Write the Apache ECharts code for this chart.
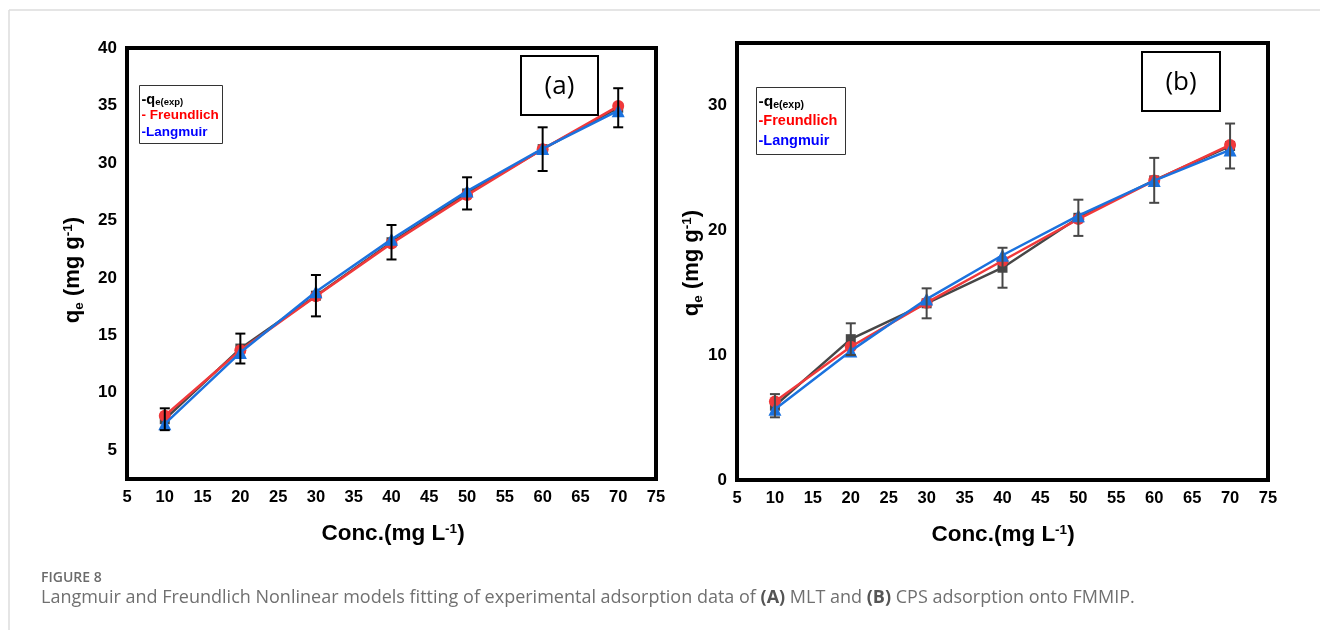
<!DOCTYPE html>
<html>
<head>
<meta charset="utf-8">
<script src="https://cdn.jsdelivr.net/npm/echarts@6/dist/echarts.min.js"></script>
<style>
  html, body { margin: 0; padding: 0; background: #fff; }
  #main { width: 1320px; height: 630px; }
</style>
</head>
<body>
<div id="main"></div>
<script>
// concentrations (mg/L)
var conc = [10, 20, 30, 40, 50, 60, 70];

// (a) MLT
var expA = [7.7, 13.85, 18.45, 23.1, 27.35, 31.2, 34.8];
var errA = [0.95, 1.3, 1.8, 1.5, 1.4, 1.9, 1.7];
var freundA = [8.0, 13.7, 18.4, 23.0, 27.2, 31.2, 34.95];
var langA = [7.3, 13.5, 18.8, 23.35, 27.55, 31.25, 34.55];

// (b) CPS
var expB = [5.95, 11.28, 14.15, 17.0, 21.0, 24.0, 26.75];
var errB = [0.93, 1.27, 1.2, 1.6, 1.45, 1.8, 1.8];
var freundB = [6.28, 10.67, 14.2, 17.56, 20.9, 23.98, 26.84];
var langB = [5.67, 10.34, 14.49, 18.0, 21.17, 23.98, 26.44];

var xTicks = [5, 75, 5];       // min, max, step
var yTicksA = [2.5, 40, 2.5];  // labels only every 5
var yTicksB = [0, 35, 10];

var RED = '#f0393b', BLUE = '#1b72de', GRAY = '#474747';
var FONT = '"Liberation Sans", Arial, sans-serif';

function pairs(xs, ys) {
    var out = [];
    for (var i = 0; i < xs.length; i++) out.push([xs[i], ys[i]]);
    return out;
}
function errData(xs, ys, es) {
    var out = [];
    for (var i = 0; i < xs.length; i++) out.push([xs[i], ys[i] - es[i], ys[i] + es[i]]);
    return out;
}
function errRender(color) {
    return function (params, api) {
        var x = api.value(0);
        var bot = api.coord([x, api.value(1)]);
        var top = api.coord([x, api.value(2)]);
        var hw = 5;
        var st = {stroke: color, lineWidth: 2};
        return {
            type: 'group',
            children: [
                {type: 'line', shape: {x1: top[0], y1: top[1], x2: bot[0], y2: bot[1]}, style: st},
                {type: 'line', shape: {x1: top[0] - hw, y1: top[1], x2: top[0] + hw, y2: top[1]}, style: st},
                {type: 'line', shape: {x1: bot[0] - hw, y1: bot[1], x2: bot[0] + hw, y2: bot[1]}, style: st}
            ]
        };
    };
}

function xAxisOf(gi) {
    return {
        gridIndex: gi, type: 'value', min: xTicks[0], max: xTicks[1], interval: xTicks[2],
        axisLine: {show: false}, axisTick: {show: false}, splitLine: {show: false},
        axisLabel: {color: '#000', fontFamily: FONT, fontWeight: 'bold', fontSize: 16.5, margin: 10}
    };
}

function lineSeries(gi, name, data, color, symbol, size, z) {
    return {
        name: name, type: 'line', xAxisIndex: gi, yAxisIndex: gi,
        data: data, symbol: symbol, symbolSize: size, z: z,
        lineStyle: {color: color, width: 2.5},
        itemStyle: {color: color},
        animation: false
    };
}

function legendBox(x, y, w, h, fs, lineGap, freundText) {
    return {
        type: 'group', left: x, top: y,
        children: [
            {type: 'rect', shape: {x: 0, y: 0, width: w, height: h}, style: {fill: '#fff', stroke: '#333', lineWidth: 1}},
            {type: 'text', x: 2, y: 6, style: {
                text: '{m|-q}{s|e(exp)}', fontFamily: FONT,
                rich: {m: {fontSize: fs + 1, fontWeight: 'bold', fill: '#000'},
                       s: {fontSize: fs - 4, fontWeight: 'bold', fill: '#000', padding: [6, 0, 0, 0]}}
            }},
            {type: 'text', x: 2, y: 6 + lineGap, style: {text: freundText, fill: '#ff0000', fontFamily: FONT, fontWeight: 'bold', fontSize: fs}},
            {type: 'text', x: 2, y: 6 + 2 * lineGap, style: {text: '-Langmuir', fill: '#0000ff', fontFamily: FONT, fontWeight: 'bold', fontSize: fs}}
        ]
    };
}

function yName(x, y) {
    return {
        type: 'text', x: x, y: y, rotation: Math.PI / 2,
        style: {
            text: '{m|q}{s|e}{m| (mg g}{p|-1}{m|)}', align: 'center', verticalAlign: 'middle',
            fontFamily: FONT,
            rich: {
                m: {fontSize: 22, fontWeight: 'bold', fill: '#000'},
                s: {fontSize: 13.5, fontWeight: 'bold', fill: '#000', padding: [12, 0, 0, 0]},
                p: {fontSize: 13.5, fontWeight: 'bold', fill: '#000', padding: [0, 0, 10, 0]}
            }
        }
    };
}

function xName(x, y) {
    return {
        type: 'text', x: x, y: y,
        style: {
            text: '{m|Conc.(mg L}{p|-1}{m|)}', align: 'center', verticalAlign: 'middle',
            fontFamily: FONT,
            rich: {
                m: {fontSize: 22.5, fontWeight: 'bold', fill: '#000'},
                p: {fontSize: 13.5, fontWeight: 'bold', fill: '#000', padding: [0, 0, 10, 0]}
            }
        }
    };
}

function tagBox(x, y, w, h, t) {
    return {
        type: 'group', left: x, top: y,
        children: [
            {type: 'rect', shape: {x: 0, y: 0, width: w, height: h}, style: {fill: '#fff', stroke: '#000', lineWidth: 2}},
            {type: 'text', x: w / 2, y: h / 2 + 1, style: {text: t, align: 'center', verticalAlign: 'middle',
                fontFamily: '"Open Sans", sans-serif', fontSize: 26, fill: '#000'}}
        ]
    };
}

var chart = echarts.init(document.getElementById('main'));

var option = {
    backgroundColor: '#fff',
    animation: false,
    grid: [
        {left: 127, top: 48, width: 529, height: 431, show: true, borderColor: '#000', borderWidth: 4, backgroundColor: 'transparent'},
        {left: 737, top: 43, width: 531, height: 437, show: true, borderColor: '#000', borderWidth: 4, backgroundColor: 'transparent'}
    ],
    xAxis: [xAxisOf(0), xAxisOf(1)],
    yAxis: [
        {
            gridIndex: 0, type: 'value', min: yTicksA[0], max: yTicksA[1], interval: yTicksA[2],
            axisLine: {show: false}, axisTick: {show: false}, splitLine: {show: false},
            axisLabel: {color: '#000', fontFamily: FONT, fontWeight: 'bold', fontSize: 17, margin: 10,
                formatter: function (v) { return v % 5 === 0 ? String(v) : ''; }}
        },
        {
            gridIndex: 1, type: 'value', min: yTicksB[0], max: yTicksB[1], interval: yTicksB[2],
            axisLine: {show: false}, axisTick: {show: false}, splitLine: {show: false},
            axisLabel: {color: '#000', fontFamily: FONT, fontWeight: 'bold', fontSize: 17, margin: 10,
                formatter: function (v) { return v % 10 === 0 ? String(v) : ''; }}
        }
    ],
    series: [
        lineSeries(0, 'qe(exp)', pairs(conc, expA), GRAY, 'rect', 10, 2),
        lineSeries(0, 'Freundlich', pairs(conc, freundA), RED, 'circle', 12, 3),
        lineSeries(0, 'Langmuir', pairs(conc, langA), BLUE, 'triangle', 13, 4),
        {
            type: 'custom', xAxisIndex: 0, yAxisIndex: 0, z: 5,
            renderItem: errRender('#000'), data: errData(conc, expA, errA), animation: false
        },
        lineSeries(1, 'qe(exp)', pairs(conc, expB), GRAY, 'rect', 10, 2),
        lineSeries(1, 'Freundlich', pairs(conc, freundB), RED, 'circle', 12, 3),
        lineSeries(1, 'Langmuir', pairs(conc, langB), BLUE, 'triangle', 13, 4),
        {
            type: 'custom', xAxisIndex: 1, yAxisIndex: 1, z: 5,
            renderItem: errRender(GRAY), data: errData(conc, expB, errB), animation: false
        }
    ],
    graphic: [
        // page frame
        {type: 'line', shape: {x1: 9, y1: 10, x2: 1320, y2: 10}, style: {stroke: '#dcdcdc', lineWidth: 1.5}},
        {type: 'line', shape: {x1: 9, y1: 10, x2: 9, y2: 630}, style: {stroke: '#dcdcdc', lineWidth: 1.5}},
        legendBox(139, 85, 83, 58, 13.5, 17, '- Freundlich'),
        legendBox(756, 87, 89, 67, 14.5, 20, '-Freundlich'),
        tagBox(520, 55, 77, 59, '(a)'),
        tagBox(1141, 51, 78, 59, '(b)'),
        yName(73, 270),
        yName(692, 263),
        xName(393, 534),
        xName(1003, 535),
        {type: 'text', left: 41, top: 571, style: {text: 'FIGURE 8', fill: '#6b6b6b',
            fontFamily: '"Open Sans", sans-serif', fontWeight: 600, fontSize: 14}},
        {type: 'text', left: 41, top: 589, style: {
            text: 'Langmuir and Freundlich Nonlinear models fitting of experimental adsorption data of {b|(A)} MLT and {b|(B)} CPS adsorption onto FMMIP.',
            fill: '#707070', fontFamily: '"Open Sans", sans-serif', fontSize: 18,
            rich: {b: {fontWeight: 'bold', fill: '#555', fontFamily: '"Open Sans", sans-serif', fontSize: 18}}
        }}
    ]
};

chart.setOption(option);
</script>
</body>
</html>
